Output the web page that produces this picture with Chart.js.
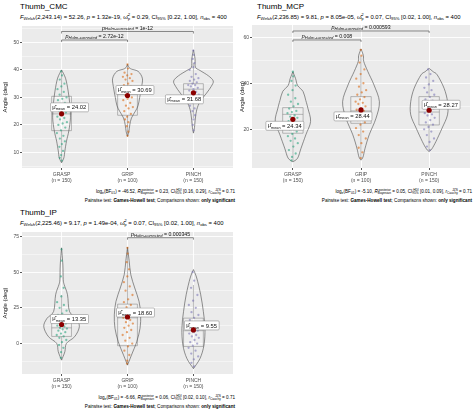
<!DOCTYPE html>
<html>
<head>
<meta charset="utf-8">
<script src="https://cdn.jsdelivr.net/npm/chart.js@4.4.0/dist/chart.umd.min.js"></script>
<style>
  body { margin: 0; background: #fff; font-family: "Liberation Sans", Arial, sans-serif; }
  #wrap { position: relative; width: 474px; height: 414px; overflow: hidden; }
  canvas { position: absolute; }
  .ttl { position: absolute; font-size: 8px; color: #000; white-space: nowrap; line-height: 10px; }
  .sub { position: absolute; font-size: 5.9px; color: #000; white-space: nowrap; line-height: 7px; }
  .sub sub { font-size: 4.2px; vertical-align: -1px; line-height: 0; }
  .cap { position: absolute; width: 235px; font-size: 4.6px; color: #000; white-space: nowrap; text-align: right; line-height: 6px; }
  .cap sub { font-size: 3.4px; vertical-align: -1px; line-height: 0; }
  .ss { display: inline-flex; flex-direction: column; vertical-align: middle; line-height: 1; }
  .sub .ss { font-size: 3.8px; }
  .cap .ss { font-size: 3.2px; }
</style>
</head>
<body>
<div id="wrap">
  <div class="ttl" style="left:20px;top:2px">Thumb_CMC</div>
  <div class="sub" style="left:20px;top:14px"><i>F</i><sub><i>Welch</i></sub>(2,243.14) = 52.26, <i>p</i> = 1.32e-19, ω̂<span class="ss"><span>2</span><span>p</span></span> = 0.29, CI<sub>95%</sub> [0.22, 1.00], <i>n</i><sub>obs</sub> = 400</div>
  <div class="cap" style="left:0;top:189px">log<sub>e</sub>(BF<sub>01</sub>) = -46.52, <i>R̂</i><span class="ss"><span>posterior</span><span>Bayesian</span></span> = 0.23, CI<span class="ss"><span>HDI</span><span>95%</span></span> [0.16, 0.29], <i>r</i><span class="ss"><span>JZS</span><span>Cauchy</span></span> = 0.71</div>
  <div class="cap" style="left:0;top:198px">Pairwise test: <b>Games-Howell test</b>; Comparisons shown: <b>only significant</b></div>

  <div class="ttl" style="left:257px;top:2px">Thumb_MCP</div>
  <div class="sub" style="left:257px;top:14px"><i>F</i><sub><i>Welch</i></sub>(2,236.85) = 9.81, <i>p</i> = 8.05e-05, ω̂<span class="ss"><span>2</span><span>p</span></span> = 0.07, CI<sub>95%</sub> [0.02, 1.00], <i>n</i><sub>obs</sub> = 400</div>
  <div class="cap" style="left:237px;top:189px">log<sub>e</sub>(BF<sub>01</sub>) = -5.10, <i>R̂</i><span class="ss"><span>posterior</span><span>Bayesian</span></span> = 0.05, CI<span class="ss"><span>HDI</span><span>95%</span></span> [0.01, 0.09], <i>r</i><span class="ss"><span>JZS</span><span>Cauchy</span></span> = 0.71</div>
  <div class="cap" style="left:237px;top:198px">Pairwise test: <b>Games-Howell test</b>; Comparisons shown: <b>only significant</b></div>

  <div class="ttl" style="left:20px;top:208px">Thumb_IP</div>
  <div class="sub" style="left:20px;top:220px"><i>F</i><sub><i>Welch</i></sub>(2,225.46) = 9.17, <i>p</i> = 1.49e-04, ω̂<span class="ss"><span>2</span><span>p</span></span> = 0.07, CI<sub>95%</sub> [0.02, 1.00], <i>n</i><sub>obs</sub> = 400</div>
  <div class="cap" style="left:0;top:395px">log<sub>e</sub>(BF<sub>01</sub>) = -6.66, <i>R̂</i><span class="ss"><span>posterior</span><span>Bayesian</span></span> = 0.06, CI<span class="ss"><span>HDI</span><span>95%</span></span> [0.02, 0.10], <i>r</i><span class="ss"><span>JZS</span><span>Cauchy</span></span> = 0.71</div>
  <div class="cap" style="left:0;top:404px">Pairwise test: <b>Games-Howell test</b>; Comparisons shown: <b>only significant</b></div>
</div>
<script>
const groups = ["GRASP", "GRIP", "PINCH"];
const groupN = [150, 100, 150];

// ---- Thumb_CMC ----
const cmcTicks = [10, 20, 30, 40, 50];
const cmcRange = [4.3, 56];
const cmcMeans = [24.02, 30.69, 31.68];
// [lower whisker, Q1, median, Q3, upper whisker]
const cmcBoxes = [[6.5, 17.9, 24, 30.4, 40], [16, 23.5, 31, 34, 42], [22.5, 30, 33, 35, 42.5]];
const cmcGrasp = [39.5, 38, 36.5, 35, 34, 33, 32, 31, 30, 29.5, 29, 28, 27, 26.5, 26, 25, 24.5, 24, 23, 22.5, 22, 21, 20.5, 20, 19, 18, 17, 16, 15, 14, 13, 12, 10.5, 9, 8, 7];
const cmcGrip = [42, 40.5, 39, 38.5, 38, 37.5, 37, 36.5, 36, 35, 34.5, 34, 33, 32.5, 32, 31, 30, 29.5, 29, 28, 27, 26.5, 26, 25, 24, 23, 22, 21, 19.5, 17.5, 16];
const cmcPinch = [47, 45.5, 44, 42.5, 41, 40, 38.5, 37.5, 37, 36.5, 36, 35.5, 35, 34.5, 34.5, 34, 33.5, 33, 32.5, 32, 31.5, 31, 30, 29.5, 29, 28, 27, 26, 25, 23.5, 22, 20, 18];
const cmcViolinY = [
  [40, 37, 32.3, 27.5, 22.6, 17.8, 14.1, 10.5, 8, 6.2],
  [42, 40.5, 39.5, 37, 34, 30, 27, 25, 22.5, 20, 17.5, 15.8],
  [47.3, 44, 41, 39.8, 37.9, 36, 34, 31.6, 28.5, 25.5, 22.5, 19, 17]
];
const cmcViolinW = [
  [0, 0.06, 0.1, 0.125, 0.135, 0.11, 0.075, 0.05, 0.035, 0],
  [0, 0.04, 0.16, 0.225, 0.215, 0.185, 0.16, 0.12, 0.06, 0.035, 0.02, 0],
  [0, 0.025, 0.03, 0.1, 0.225, 0.3, 0.27, 0.2, 0.1, 0.05, 0.03, 0.015, 0]
];
const cmcPairs = [[1, 3, 54, "1e-12"], [1, 2, 50.9, "2.72e-12"]];

// ---- Thumb_MCP ----
const mcpTicks = [20, 40, 60];
const mcpRange = [3.2, 65.3];
const mcpMeans = [24.34, 28.44, 28.27];
const mcpBoxes = [[6, 18.3, 26.5, 29.4, 45], [7, 22.6, 28, 34.2, 52], [10.5, 21.9, 27.5, 34.2, 46]];
const mcpGrasp = [45, 43, 41, 39, 37, 35, 33.5, 32, 31, 30, 29, 28, 27.5, 27, 26, 25.5, 25, 24, 23.5, 23, 22, 21.5, 21, 20, 19, 18, 17, 16, 15, 14, 12.5, 11, 9.5, 8, 6.5];
const mcpGrip = [54.5, 52, 49, 46, 44, 42, 40, 38.5, 37, 36, 35, 34, 33, 32, 31.5, 31, 30, 29, 28.5, 28, 27, 26, 25, 24, 23, 22, 20.5, 19, 17.5, 16, 14, 12, 10, 7.5];
const mcpPinch = [46, 44, 42.5, 41, 39.5, 38, 37, 36, 35, 34, 33, 32.5, 32, 31, 30, 29.5, 29, 28, 27, 26.5, 26, 25, 24, 23, 22, 21, 20, 19, 17.5, 16, 14.5, 12.5, 11];
const mcpViolinY = [
  [45, 42, 39, 36.4, 32.5, 29.2, 23.4, 17.6, 11.8, 7.5, 5.9],
  [54.9, 52, 49.5, 45.1, 39.3, 32, 24.8, 17.6, 11.8, 8, 6.6],
  [46.5, 45, 43.6, 37.8, 32, 26.3, 20.5, 14.7, 11.5, 10.3]
];
const mcpViolinW = [
  [0, 0.04, 0.07, 0.15, 0.19, 0.22, 0.26, 0.19, 0.12, 0.07, 0],
  [0, 0.035, 0.04, 0.1, 0.19, 0.27, 0.22, 0.12, 0.06, 0.03, 0],
  [0, 0.06, 0.12, 0.22, 0.27, 0.27, 0.19, 0.1, 0.04, 0]
];
const mcpPairs = [[1, 3, 62.7, "0.000593"], [1, 2, 58.8, "0.008"]];

// ---- Thumb_IP ----
const ipTicks = [0, 25, 50, 75];
const ipRange = [-21.3, 78.1];
const ipMeans = [13.35, 18.60, 9.55];
const ipBoxes = [[-11, 5, 11, 17, 34], [-15, -1.5, 18, 27.6, 67], [-17.5, -2, 9, 17.8, 41]];
const ipGrasp = [66, 58, 47, 39, 33, 29, 27, 25, 23, 21, 20, 18.5, 17, 16, 15, 14.5, 14, 13, 12.5, 12, 11, 10.5, 10, 9, 8, 7, 6, 5, 4, 2.5, 1, -1, -3, -6, -10];
const ipGrip = [67, 63, 57, 52, 47, 43, 40, 37, 34, 31, 29, 27, 25.5, 24, 22.5, 21, 20, 19, 18, 16.5, 15, 14, 12.5, 11, 9.5, 8, 6, 4, 2, 0, -2, -5, -8, -12, -14];
const ipPinch = [50, 44, 39, 34, 30, 27, 25, 22, 20, 18, 16.5, 15, 13.5, 12.5, 11, 10, 9, 8, 7, 6, 5, 4, 2.5, 1, 0, -1.5, -3, -5, -7, -9, -11, -13.5, -16];
const ipViolinY = [
  [67, 55, 45, 41.2, 34.2, 22.5, 17.7, 11.9, 4.9, 0.2, -5.7, -11.6],
  [67.5, 58, 48.2, 38.9, 29.5, 20.1, 10.7, 1.3, -8.1, -15.1],
  [51.8, 45.9, 34.2, 22.5, 10.7, -1, -10.4, -17.5]
];
const ipViolinW = [
  [0, 0.02, 0.025, 0.04, 0.09, 0.12, 0.22, 0.27, 0.2, 0.075, 0.05, 0],
  [0, 0.025, 0.05, 0.11, 0.175, 0.2, 0.19, 0.14, 0.06, 0],
  [0, 0.05, 0.11, 0.15, 0.175, 0.16, 0.1, 0]
];
const ipPairs = [[2, 3, 74.1, "0.000345"]];

const groupColors = ["27,158,119", "217,95,2", "117,112,179"];
const FONT = "'Liberation Sans', Arial, sans-serif";

const panels = [
  { ticks: cmcTicks, range: cmcRange, means: cmcMeans, boxes: cmcBoxes, values: [cmcGrasp, cmcGrip, cmcPinch],
    vy: cmcViolinY, vw: cmcViolinW, pairs: cmcPairs,
    left: 0, top: 22, w: 237, h: 162, yAxisW: 22, padR: 2,
    labelOff: [[-11, -11], [-11.5, -10], [-28, 2]] },
  { ticks: mcpTicks, range: mcpRange, means: mcpMeans, boxes: mcpBoxes, values: [mcpGrasp, mcpGrip, mcpPinch],
    vy: mcpViolinY, vw: mcpViolinW, pairs: mcpPairs,
    left: 237, top: 21, w: 237, h: 163, yAxisW: 15, padR: 3,
    labelOff: [[-27, 2], [-27, 2], [-7, -10]] },
  { ticks: ipTicks, range: ipRange, means: ipMeans, boxes: ipBoxes, values: [ipGrasp, ipGrip, ipPinch],
    vy: ipViolinY, vw: ipViolinW, pairs: ipPairs,
    left: 0, top: 228, w: 237, h: 162, yAxisW: 22, padR: 2,
    labelOff: [[-11, -10], [-11, -9], [-9, -9]] }
];

// half width of a violin at value v (profiles run top -> bottom)
function halfAt(ys, ws, v) {
  for (let k = 0; k < ys.length - 1; k++) {
    if (v <= ys[k] && v >= ys[k + 1]) {
      const t = (ys[k] - v) / (ys[k] - ys[k + 1] || 1);
      return ws[k] + (ws[k + 1] - ws[k]) * t;
    }
  }
  return 0.02;
}

function smoothPath(ctx, pts, move) {
  if (move) ctx.moveTo(pts[0][0], pts[0][1]); else ctx.lineTo(pts[0][0], pts[0][1]);
  for (let i = 0; i < pts.length - 1; i++) {
    const p0 = pts[Math.max(i - 1, 0)], p1 = pts[i], p2 = pts[i + 1], p3 = pts[Math.min(i + 2, pts.length - 1)];
    ctx.bezierCurveTo(p1[0] + (p2[0] - p0[0]) / 6, p1[1] + (p2[1] - p0[1]) / 6,
                      p2[0] - (p3[0] - p1[0]) / 6, p2[1] - (p3[1] - p1[1]) / 6, p2[0], p2[1]);
  }
}

function drawMeanLabel(ctx, px, py, off, mean) {
  const big = "5.8px " + FONT, small = "3.8px " + FONT;
  const val = " = " + mean.toFixed(2);
  ctx.font = big; const w1 = ctx.measureText("μ̂").width, w3 = ctx.measureText(val).width;
  ctx.font = small; const w2 = ctx.measureText("mean").width;
  const bw = w1 + w2 + w3 + 4, bh = 9;
  const x = px + off[0], y = py + off[1];
  ctx.save();
  ctx.fillStyle = "#fff"; ctx.strokeStyle = "#7a7a7a"; ctx.lineWidth = 0.5;
  ctx.beginPath(); ctx.roundRect(x, y, bw, bh, 1); ctx.fill(); ctx.stroke();
  ctx.fillStyle = "#111"; ctx.textBaseline = "alphabetic";
  ctx.font = big; ctx.fillText("μ̂", x + 1.8, y + 5.8);
  ctx.font = small; ctx.fillText("mean", x + 1.8 + w1, y + 7.6);
  ctx.font = big; ctx.fillText(val, x + 1.8 + w1 + w2, y + 6.6);
  ctx.restore();
}

function drawPair(ctx, xs, ys, pr) {
  const xa = xs.getPixelForValue(pr[0]), xb = xs.getPixelForValue(pr[1]), y = ys.getPixelForValue(pr[2]);
  ctx.save();
  ctx.strokeStyle = "#222"; ctx.lineWidth = 0.5;
  ctx.beginPath();
  ctx.moveTo(xa, y + 2); ctx.lineTo(xa, y); ctx.lineTo(xb, y); ctx.lineTo(xb, y + 2);
  ctx.stroke();
  const f1 = "italic 5.4px " + FONT, f2 = "italic 4.2px " + FONT, f3 = "5.2px " + FONT;
  const t3 = " = " + pr[3];
  ctx.font = f1; const w1 = ctx.measureText("p").width;
  ctx.font = f2; const w2 = ctx.measureText("Holm-corrected").width;
  ctx.font = f3; const w3 = ctx.measureText(t3).width;
  let x = (xa + xb) / 2 - (w1 + w2 + w3) / 2;
  ctx.fillStyle = "#111";
  ctx.font = f1; ctx.fillText("p", x, y - 1.8); x += w1;
  ctx.font = f2; ctx.fillText("Holm-corrected", x, y - 1); x += w2;
  ctx.font = f3; ctx.fillText(t3, x, y - 1.8);
  ctx.restore();
}

function makePanel(p) {
  const canvas = document.createElement("canvas");
  canvas.width = p.w; canvas.height = p.h;
  canvas.style.left = p.left + "px"; canvas.style.top = p.top + "px";
  canvas.style.width = p.w + "px"; canvas.style.height = p.h + "px";
  document.getElementById("wrap").appendChild(canvas);

  const step = p.ticks[1] - p.ticks[0];
  const allTicks = [];
  for (const t of p.ticks) { allTicks.push(t - step / 2, t); }
  allTicks.push(p.ticks[p.ticks.length - 1] + step / 2);
  const yTicks = allTicks.filter(v => v >= p.range[0] && v <= p.range[1]);
  const isMajor = v => p.ticks.includes(v);

  const pointSets = p.values.map((vals, gi) => ({
    label: groups[gi],
    data: vals.map((v, k) => {
      const jw = Math.min(0.085, halfAt(p.vy[gi], p.vw[gi], v) * 0.8);
      return { x: gi + 1 + (((k * 0.618034) % 1) - 0.5) * 2 * jw, y: v };
    }),
    pointRadius: 1.15,
    backgroundColor: "rgba(" + groupColors[gi] + ",0.55)",
    borderWidth: 0
  }));

  const panelPlugin = {
    id: "violinPanel",
    beforeDraw(chart) {
      const a = chart.chartArea, ctx = chart.ctx;
      ctx.save(); ctx.fillStyle = "#EBEBEB";
      ctx.fillRect(a.left, a.top, a.right - a.left, a.bottom - a.top);
      ctx.restore();
    },
    beforeDatasetsDraw(chart) {
      const ctx = chart.ctx, xs = chart.scales.x, ys = chart.scales.y;
      ctx.save();
      groups.forEach((g, gi) => {
        const cx = gi + 1;
        // box + whiskers
        const b = p.boxes[gi];
        const bl = xs.getPixelForValue(cx - 0.15), br = xs.getPixelForValue(cx + 0.15), xc = xs.getPixelForValue(cx);
        ctx.strokeStyle = "#7a7a7a"; ctx.lineWidth = 0.5;
        ctx.fillStyle = "rgba(255,255,255,0.15)";
        ctx.beginPath();
        ctx.rect(bl, ys.getPixelForValue(b[3]), br - bl, ys.getPixelForValue(b[1]) - ys.getPixelForValue(b[3]));
        ctx.fill(); ctx.stroke();
        ctx.beginPath();
        ctx.moveTo(bl, ys.getPixelForValue(b[2])); ctx.lineTo(br, ys.getPixelForValue(b[2]));
        ctx.moveTo(xc, ys.getPixelForValue(b[3])); ctx.lineTo(xc, ys.getPixelForValue(b[4]));
        ctx.moveTo(xc, ys.getPixelForValue(b[1])); ctx.lineTo(xc, ys.getPixelForValue(b[0]));
        ctx.stroke();
        // violin
        const yv = p.vy[gi], wv = p.vw[gi];
        const right = yv.map((v, k) => [xs.getPixelForValue(cx + wv[k]), ys.getPixelForValue(v)]);
        const left = yv.map((v, k) => [xs.getPixelForValue(cx - wv[k]), ys.getPixelForValue(v)]).reverse();
        ctx.strokeStyle = "#4a4a4a"; ctx.lineWidth = 0.6;
        ctx.beginPath();
        smoothPath(ctx, right, true);
        smoothPath(ctx, left, false);
        ctx.closePath();
        ctx.stroke();
      });
      ctx.restore();
    },
    afterDatasetDraw(chart, args) {
      if (args.index !== 1) return;
      const xs = chart.scales.x, ys = chart.scales.y;
      p.means.forEach((m, gi) => {
        drawMeanLabel(chart.ctx, xs.getPixelForValue(gi + 1), ys.getPixelForValue(m), p.labelOff[gi], m);
      });
    },
    afterDraw(chart) {
      p.pairs.forEach(pr => drawPair(chart.ctx, chart.scales.x, chart.scales.y, pr));
    }
  };

  new Chart(canvas, {
    type: "scatter",
    data: {
      datasets: [
        {
          label: "mean",
          data: p.means.map((m, gi) => ({ x: gi + 1, y: m })),
          pointRadius: 2.6,
          backgroundColor: "#8B0000",
          borderWidth: 0
        },
        ...pointSets
      ]
    },
    options: {
      responsive: false,
      animation: false,
      events: [],
      layout: { padding: { top: 4, right: p.padR, left: 0, bottom: 0 } },
      plugins: { legend: { display: false }, tooltip: { enabled: false } },
      scales: {
        x: {
          type: "linear", min: 0.4, max: 3.6,
          afterBuildTicks: s => { s.ticks = [1, 2, 3].map(v => ({ value: v })); },
          afterFit: s => { s.height = 16; },
          ticks: {
            autoSkip: false, maxRotation: 0, padding: 1,
            color: "#4D4D4D", font: { family: FONT, size: 5, lineHeight: 1.25 },
            callback: v => [groups[v - 1], "(n = " + groupN[v - 1] + ")"]
          },
          grid: { color: "#fff", lineWidth: 0.9, tickLength: 2, tickColor: "#444" },
          border: { display: false }
        },
        y: {
          type: "linear", min: p.range[0], max: p.range[1],
          afterBuildTicks: s => { s.ticks = yTicks.map(v => ({ value: v })); },
          afterFit: s => { s.width = p.yAxisW; },
          ticks: {
            padding: 1, color: "#4D4D4D", font: { family: FONT, size: 5 },
            callback: v => (isMajor(v) ? String(v) : "")
          },
          grid: {
            color: "#fff",
            lineWidth: c => (isMajor(c.tick.value) ? 0.9 : 0.45),
            tickLength: 2,
            tickColor: c => (isMajor(c.tick.value) ? "#444" : "rgba(0,0,0,0)")
          },
          border: { display: false },
          title: { display: true, text: "Angle (deg)", color: "#111", font: { family: FONT, size: 6 }, padding: { top: 2, bottom: 1 } }
        }
      }
    },
    plugins: [panelPlugin]
  });
}

panels.forEach(makePanel);
</script>
</body>
</html>
